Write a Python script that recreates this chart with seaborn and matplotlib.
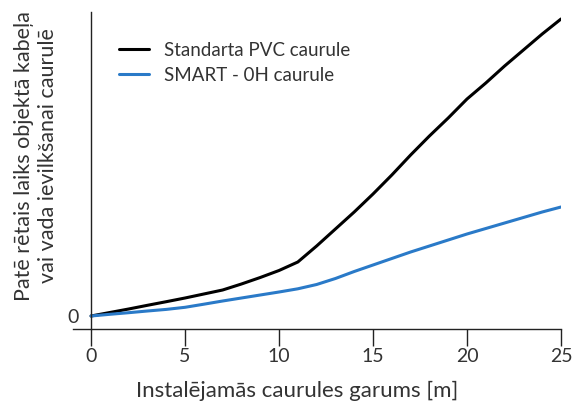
import numpy as np
import pandas as pd
import seaborn as sns
import matplotlib.pyplot as plt

# pipe length [m]
length = [0, 1, 2, 3, 4, 5, 6, 7, 8, 9, 10, 11, 12, 13, 14, 15, 16, 17, 18, 19, 20, 21, 22, 23, 24, 25]
# relative time (arbitrary units)
pvc = [0, 0.35, 0.7, 1.07, 1.43, 1.8, 2.2, 2.6, 3.2, 3.85, 4.55, 5.4, 7.0, 8.7, 10.4, 12.2,
       14.1, 16.1, 18.0, 19.8, 21.7, 23.3, 25.0, 26.6, 28.2, 29.7]
smart = [0, 0.17, 0.33, 0.5, 0.66, 0.87, 1.18, 1.5, 1.8, 2.1, 2.4, 2.72, 3.15, 3.75, 4.45, 5.1,
         5.75, 6.4, 7.0, 7.6, 8.2, 8.75, 9.3, 9.85, 10.4, 10.9]
series = ["Standarta PVC caurule", "SMART - 0H caurule"]

df = pd.DataFrame({
    "garums": length * 2,
    "laiks": pvc + smart,
    "caurule": [series[0]] * len(length) + [series[1]] * len(length),
})

sns.set_style("white")
plt.rcParams['font.family'] = ['Lato', 'DejaVu Sans']

fig = plt.figure(figsize=(5.72, 4.07), dpi=100)
ax = fig.add_axes([73 / 572, 1 - 329 / 407, 488 / 572, 317 / 407])

sns.lineplot(data=df, x="garums", y="laiks", hue="caurule",
             palette=["#000000", "#2a7ac8"], linewidth=2.2, ax=ax)

ax.set_xlim(-0.96, 25)
ax.set_ylim(-1.3, 30.4)
ax.set_xticks([0, 5, 10, 15, 20, 25])
ax.set_yticks([0])

for s in ["top", "right"]:
    ax.spines[s].set_visible(False)
ax.spines["left"].set_position(("data", 0))
for s in ["left", "bottom"]:
    ax.spines[s].set_color("#222222")
    ax.spines[s].set_linewidth(1.0)

ax.tick_params(axis="x", length=12.5, width=1.0, color="#222222", pad=1,
               labelsize=14, labelcolor="#333333", bottom=True)
ax.tick_params(axis="y", length=0, pad=9, labelsize=14, labelcolor="#333333", left=True)

ax.set_xlabel("Instalējamās caurules garums [m]", fontsize=16, color="#333333")
ax.xaxis.set_label_coords(0.459, -0.165)
ax.set_ylabel("Patē rētais laiks objektā kabeļa\nvai vada ievilkšanai caurulē",
              fontsize=15.5, color="#333333", linespacing=1.25)
ax.yaxis.set_label_coords(-0.03, 0.546)

leg = ax.legend(loc="upper left", bbox_to_anchor=(0.06, 0.96), frameon=False,
                fontsize=13.5, handlelength=1.6, handletextpad=0.8, labelspacing=0.45)
for t in leg.get_texts():
    t.set_color("#333333")

fig.savefig("out.png", dpi=100)
